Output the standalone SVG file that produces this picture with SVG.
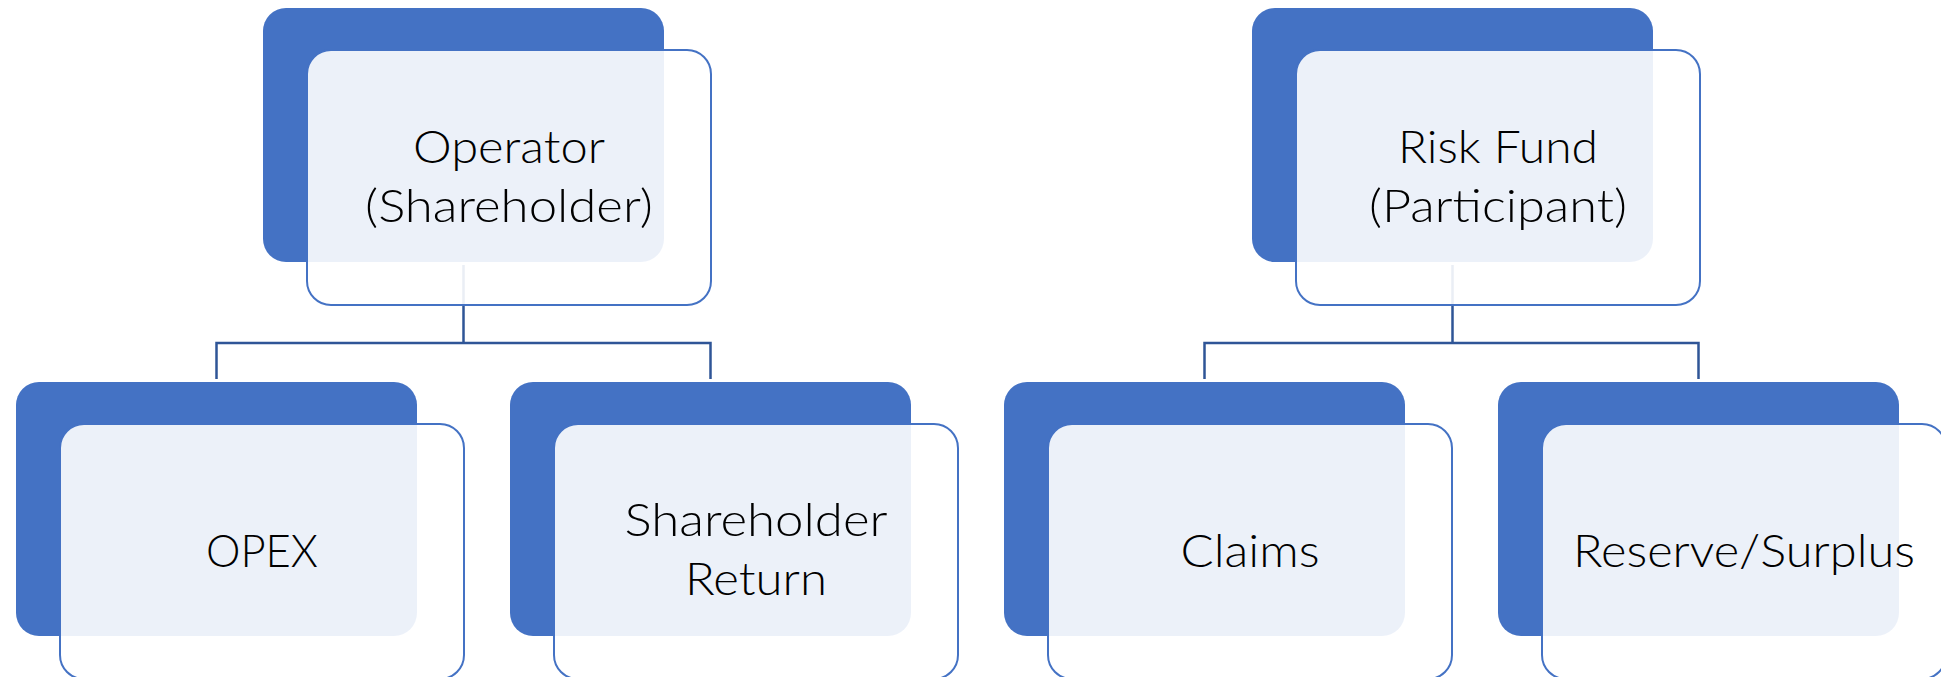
<svg xmlns="http://www.w3.org/2000/svg" width="1941" height="677" viewBox="0 0 1941 677">
  <style>
    .back { fill: #4472C4; }
    .front { fill: #FFFFFF; fill-opacity: 0.9; stroke: #4472C4; stroke-width: 2; }
    .link { fill: none; stroke: #2F5597; stroke-width: 2.5; }
    .label { font-family: Lato, "Liberation Sans", sans-serif; font-weight: 300; font-size: 46px; fill: #000000; text-anchor: middle; }
  </style>
  <defs>
    <rect id="backCard" class="back" width="401" height="254" rx="23"/>
    <rect id="frontCard" class="front" width="404" height="255" rx="24"/>
  </defs>

  <!-- connectors sit behind the translucent front cards -->
  <g id="connectors">
    <path class="link" d="M463.5 265 V343 M216.5 379 V343 H710.5 V379"/>
    <path class="link" d="M1452.5 265 V343 M1204.5 379 V343 H1698.5 V379"/>
  </g>

  <g id="operator">
    <use href="#backCard" x="263" y="8"/>
    <use href="#frontCard" x="307" y="50"/>
    <text class="label" x="509" y="163" textLength="192" lengthAdjust="spacingAndGlyphs">Operator</text>
    <text class="label" x="509" y="222" textLength="288" lengthAdjust="spacingAndGlyphs">(Shareholder)</text>
  </g>

  <g id="opex">
    <use href="#backCard" x="16" y="382"/>
    <use href="#frontCard" x="60" y="424"/>
    <text class="label" x="262" y="567" textLength="112" lengthAdjust="spacingAndGlyphs">OPEX</text>
  </g>

  <g id="shareholder-return">
    <use href="#backCard" x="510" y="382"/>
    <use href="#frontCard" x="554" y="424"/>
    <text class="label" x="756" y="536" textLength="263" lengthAdjust="spacingAndGlyphs">Shareholder</text>
    <text class="label" x="756" y="595" textLength="142" lengthAdjust="spacingAndGlyphs">Return</text>
  </g>

  <g id="risk-fund">
    <use href="#backCard" x="1252" y="8"/>
    <use href="#frontCard" x="1296" y="50"/>
    <text class="label" x="1498" y="163" textLength="200" lengthAdjust="spacingAndGlyphs">Risk Fund</text>
    <text class="label" x="1498" y="222" textLength="258" lengthAdjust="spacingAndGlyphs">(Participant)</text>
  </g>

  <g id="claims">
    <use href="#backCard" x="1004" y="382"/>
    <use href="#frontCard" x="1048" y="424"/>
    <text class="label" x="1250" y="567" textLength="139" lengthAdjust="spacingAndGlyphs">Claims</text>
  </g>

  <g id="reserve-surplus">
    <use href="#backCard" x="1498" y="382"/>
    <use href="#frontCard" x="1542" y="424"/>
    <text class="label" x="1744" y="567" textLength="342" lengthAdjust="spacingAndGlyphs">Reserve/Surplus</text>
  </g>
</svg>
